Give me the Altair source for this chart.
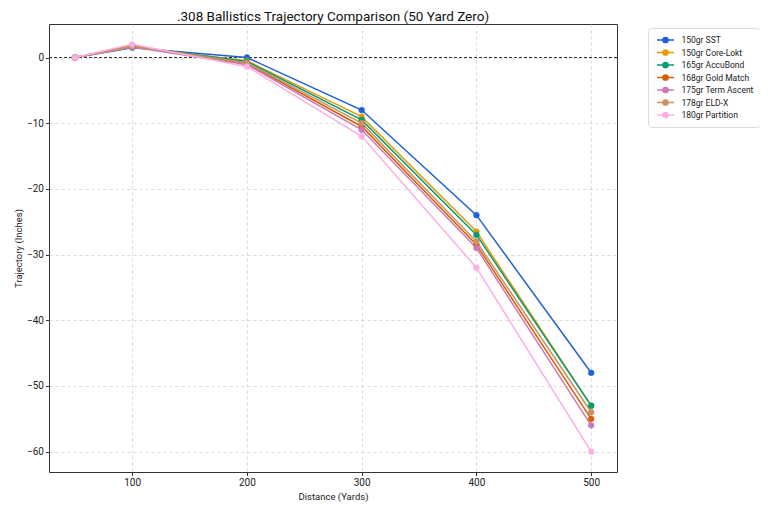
import altair as alt
import pandas as pd

# distances in yards and drop (inches) per load, 50 yard zero
distances = [50, 100, 200, 300, 400, 500]
loads = [
    "150gr SST",
    "150gr Core-Lokt",
    "165gr AccuBond",
    "168gr Gold Match",
    "175gr Term Ascent",
    "178gr ELD-X",
    "180gr Partition",
]
sst = [0, 1.5, 0.0, -8.0, -24.0, -48.0]
core_lokt = [0, 1.6, -0.5, -9.0, -26.5, -53.0]
accubond = [0, 1.7, -0.6, -9.5, -27.0, -53.0]
gold_match = [0, 1.8, -0.9, -10.5, -28.5, -55.0]
term_ascent = [0, 1.6, -1.1, -11.0, -29.0, -56.0]
eld_x = [0, 1.7, -0.8, -10.0, -28.0, -54.0]
partition = [0, 2.0, -1.4, -12.0, -32.0, -60.0]
palette = ["#1f5fd9", "#e69a0b", "#029e73", "#d55e00", "#cc78bc", "#ca9161", "#fbafe4"]

series = [sst, core_lokt, accubond, gold_match, term_ascent, eld_x, partition]
rows = []
for load, values in zip(loads, series):
    for d, v in zip(distances, values):
        rows.append({"distance": d, "drop": v, "load": load})
df = pd.DataFrame(rows)

FONT = "Roboto"

legend = alt.Legend(
    title=None,
    orient="none",
    legendX=599,
    legendY=4,
    symbolType="M-1.7,0H1.7M0.52,0A0.52,0.52,0,1,1,-0.52,0A0.52,0.52,0,1,1,0.52,0Z",
    symbolSize=100,
    symbolStrokeWidth=1.5,
    symbolOpacity=1,
    symbolOffset=5.5,
    labelOffset=10,
    labelFontSize=8.5,
    labelFont=FONT,
    labelColor="#222",
    labelLimit=120,
    rowPadding=0.5,
    padding=6,
    fillColor="white",
    strokeColor="#dddddd",
    cornerRadius=3,
)
scale = alt.Scale(domain=loads, range=palette)
stroke = alt.Stroke("load:N", scale=scale, sort=loads, legend=legend)
fill = alt.Fill("load:N", scale=scale, sort=loads, legend=legend)

x = alt.X(
    "distance:Q",
    title="Distance (Yards)",
    scale=alt.Scale(domain=[27.5, 522.5], nice=False, zero=False),
    axis=alt.Axis(values=[100, 200, 300, 400, 500], format="d"),
)
y = alt.Y(
    "drop:Q",
    title="Trajectory (Inches)",
    scale=alt.Scale(domain=[-63.1, 5.1], nice=False, zero=False),
    axis=alt.Axis(values=[0, -10, -20, -30, -40, -50, -60], format="d"),
)

lines = alt.Chart(df).mark_line(strokeWidth=1.5).encode(
    x=x, y=y, stroke=stroke, order=alt.Order("distance:Q")
)
points = alt.Chart(df).mark_point(filled=True, size=34, opacity=1, strokeWidth=0.5).encode(
    x=x, y=y, fill=fill, stroke=stroke
)
zero = alt.Chart(pd.DataFrame({"y": [0]})).mark_rule(
    color="#333", strokeDash=[3, 2], strokeWidth=1
).encode(y="y:Q")

chart = (
    alt.layer(zero, lines, points)
    .properties(
        width=568,
        height=448,
        autosize=alt.AutoSizeParams(type="none"),
        padding={"left": 41, "top": 16, "right": 143, "bottom": 32},
        title=alt.Title(
            ".308 Ballistics Trajectory Comparison (50 Yard Zero)",
            font=FONT,
            fontSize=13.5,
            fontWeight="normal",
            color="#111",
            offset=5,
            dy=4,
        ),
    )
    .configure_view(stroke="#333", strokeWidth=1)
    .configure_axis(
        domain=False,
        grid=True,
        gridColor="#cccccc",
        gridDash=[3, 3],
        gridWidth=0.7,
        tickColor="#333",
        tickSize=3.5,
        labelFont=FONT,
        labelFontSize=10,
        labelColor="#222",
        titleFont=FONT,
        titleFontSize=9.5,
        titleFontWeight="normal",
        titleColor="#222",
    )
    .configure_axisX(titlePadding=4)
    .configure_axisY(titlePadding=3)
)

chart.save("out.html", embed_options={"renderer": "svg", "actions": False})
